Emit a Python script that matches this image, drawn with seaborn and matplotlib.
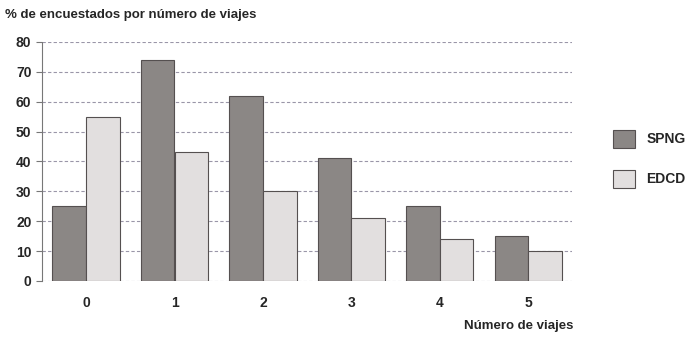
import pandas as pd
import matplotlib
matplotlib.use('Agg')
import matplotlib.pyplot as plt
import seaborn as sns

# Values
viajes = ['0', '1', '2', '3', '4', '5']
spng = [25, 74, 62, 41, 25, 15]
edcd = [55, 43, 30, 21, 14, 10]
series = ['SPNG', 'EDCD']

df = pd.DataFrame({
    'viajes': viajes * 2,
    'pct': spng + edcd,
    'serie': [series[0]] * len(viajes) + [series[1]] * len(viajes),
})

sns.set_style('white')
plt.rcParams['font.family'] = ['Liberation Sans', 'DejaVu Sans']

fig = plt.figure(figsize=(6.98, 3.38), dpi=100)
ax = fig.add_axes([0.060, 0.169, 0.760, 0.707])

sns.barplot(data=df, x='viajes', y='pct', hue='serie', order=viajes,
            hue_order=series, palette=['#8c8684', '#e2dede'],
            width=0.76, edgecolor='#555050', linewidth=0.8, ax=ax)

ax.set_ylim(0, 80)
ax.set_xlim(-0.5, 5.5)
ax.set_yticks(range(0, 81, 10))
ax.yaxis.grid(True, linestyle=(0, (3, 2)), color='#9a96a8', linewidth=0.8)
ax.set_axisbelow(True)

for s in ['top', 'right', 'bottom']:
    ax.spines[s].set_visible(False)
ax.spines['left'].set_linestyle((0, (2, 1)))
ax.spines['left'].set_color('#777777')

ax.set_xticks(range(len(viajes)))
ax.set_xticklabels(viajes, fontsize=10, fontweight='bold')
ax.tick_params(axis='x', length=0, pad=11)
ax.set_xticks([i + 0.5 for i in range(len(viajes))], minor=True)
ax.tick_params(axis='x', which='minor', length=4, color='#888888', direction='out')
ax.tick_params(axis='y', labelsize=10, length=4, color='#777777', left=True)
for lab in ax.get_yticklabels():
    lab.set_fontweight('bold')

ax.set_xlabel('')
ax.set_ylabel('')
fig.text(0.007, 0.955, '% de encuestados por número de viajes', fontsize=9.5,
         fontweight='bold', ha='left', va='center')
fig.text(0.822, 0.035, 'Número de viajes', fontsize=9.5, fontweight='bold',
         ha='right', va='center')

handles, labels = ax.get_legend_handles_labels()
ax.legend(handles, labels, loc='center left', bbox_to_anchor=(0.86, 0.53),
          bbox_transform=fig.transFigure, frameon=False,
          handlelength=1.6, handleheight=1.6, labelspacing=1.6,
          prop={'weight': 'bold', 'size': 10})

fig.savefig('out.png', dpi=100)
